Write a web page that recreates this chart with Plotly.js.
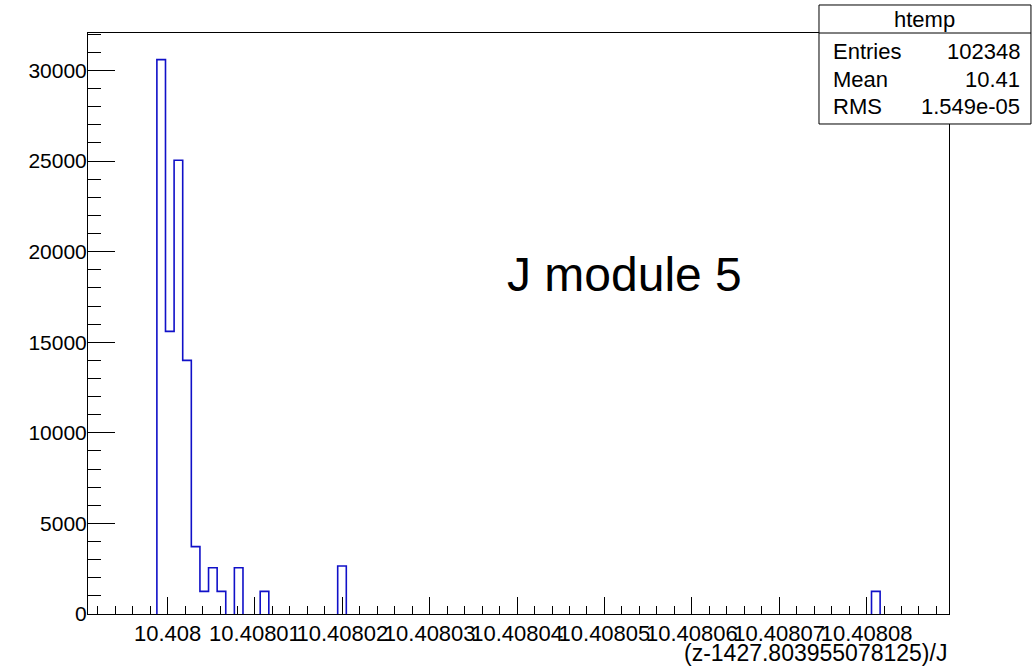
<!DOCTYPE html>
<html>
<head>
<meta charset="utf-8">
<script src="https://cdn.plot.ly/plotly-3.0.1.min.js"></script>
<style>
  html, body { margin: 0; padding: 0; background: #ffffff; }
  #plot { width: 1033px; height: 668px; }
</style>
</head>
<body>
<div id="plot"></div>
<script>
// Histogram definition (htemp): 100 equal bins over the axis range
const nBins = 100;
const xLow = 10.40799089;
const xHigh = 10.40808944;

// Bins that hold entries, and their contents
const filledBins = [8, 9, 10, 11, 12, 13, 14, 15, 17, 20, 29, 91];
const binCounts = [30600, 15600, 25050, 14000, 3720, 1250, 2550, 1250, 2550, 1250, 2650, 1250];

// Axis tick labels
const xTickVals = [10.408, 10.40801, 10.40802, 10.40803, 10.40804, 10.40805, 10.40806, 10.40807, 10.40808];
const xTickText = ['10.408', '10.40801', '10.40802', '10.40803', '10.40804', '10.40805', '10.40806', '10.40807', '10.40808'];

// Statistics box contents
const statTitle = 'htemp';
const statNames = ['Entries', 'Mean', 'RMS'];
const statValues = ['102348', '10.41', '1.549e-05'];

const xTitle = '(z-1427.803955078125)/J';
const label = 'J module 5';

// Full bin content array
const counts = new Array(nBins).fill(0);
filledBins.forEach((b, i) => { counts[b] = binCounts[i]; });
const binWidth = (xHigh - xLow) / nBins;
const edge = k => xLow + k * binWidth;

// Outline of the histogram: one closed step path per run of non-empty bins
const xs = [], ys = [];
let k = 0;
while (k < nBins) {
  if (counts[k] === 0) { k++; continue; }
  xs.push(edge(k)); ys.push(0);
  while (k < nBins && counts[k] !== 0) {
    xs.push(edge(k)); ys.push(counts[k]);
    xs.push(edge(k + 1)); ys.push(counts[k]);
    k++;
  }
  xs.push(edge(k)); ys.push(0);
  xs.push(null); ys.push(null);
}

const FONT = 'Liberation Sans, Arial, Helvetica, sans-serif';

const trace = {
  type: 'scatter',
  mode: 'lines',
  x: xs,
  y: ys,
  line: { color: '#1010c8', width: 1.6, shape: 'linear' },
  connectgaps: false,
  hoverinfo: 'skip',
  showlegend: false
};

// Stats box geometry in paper units
const boxX0 = 0.849, boxX1 = 1.0952, boxY0 = 0.8434, boxY1 = 1.0482, boxDiv = 1.0;
const txtLeft = 0.8626, txtRight = 1.0844;
const rowY = [0.9678, 0.9203, 0.8732];

const annotations = [
  { xref: 'paper', yref: 'paper', x: 0.623, y: 0.585, text: label, showarrow: false,
    xanchor: 'center', yanchor: 'middle', font: { family: FONT, size: 48, color: '#000' } },
  { xref: 'paper', yref: 'paper', x: 1.0, y: -0.067, text: xTitle, showarrow: false,
    xanchor: 'right', yanchor: 'middle', font: { family: FONT, size: 23, color: '#000' } },
  { xref: 'paper', yref: 'paper', x: (boxX0 + boxX1) / 2, y: 1.0224, text: statTitle, showarrow: false,
    xanchor: 'center', yanchor: 'middle', font: { family: FONT, size: 22, color: '#000' } }
];
statNames.forEach((name, i) => {
  annotations.push({ xref: 'paper', yref: 'paper', x: txtLeft, y: rowY[i], text: name, showarrow: false,
    xanchor: 'left', yanchor: 'middle', font: { family: FONT, size: 22, color: '#000' } });
  annotations.push({ xref: 'paper', yref: 'paper', x: txtRight, y: rowY[i], text: statValues[i], showarrow: false,
    xanchor: 'right', yanchor: 'middle', font: { family: FONT, size: 22, color: '#000' } });
});

const layout = {
  width: 1033,
  height: 668,
  margin: { l: 88, r: 84, t: 33, b: 54, pad: 0 },
  paper_bgcolor: '#ffffff',
  plot_bgcolor: '#ffffff',
  showlegend: false,
  font: { family: FONT, color: '#000' },
  xaxis: {
    range: [xLow, xHigh],
    showline: true, linecolor: '#000', linewidth: 1, mirror: true,
    showgrid: false, zeroline: false,
    ticks: 'inside', ticklen: 17, tickwidth: 1, tickcolor: '#000',
    tickmode: 'array', tickvals: xTickVals, ticktext: xTickText,
    tickangle: 0,
    tickfont: { family: FONT, size: 22, color: '#000' },
    minor: { tickmode: 'linear', tick0: 10.408, dtick: 2e-6, ticks: 'inside', ticklen: 8,
             tickwidth: 1, tickcolor: '#000', showgrid: false },
    layer: 'above traces',
    fixedrange: true
  },
  yaxis: {
    range: [0, 32070],
    showline: true, linecolor: '#000', linewidth: 1, mirror: true,
    showgrid: false, zeroline: false,
    ticks: 'inside', ticklen: 27, tickwidth: 1, tickcolor: '#000',
    tickmode: 'linear', tick0: 0, dtick: 5000, tickformat: 'd',
    tickfont: { family: FONT, size: 21, color: '#000' },
    ticklabelstandoff: -4,
    minor: { tickmode: 'linear', tick0: 0, dtick: 1000, ticks: 'inside', ticklen: 13,
             tickwidth: 1, tickcolor: '#000', showgrid: false },
    layer: 'above traces',
    fixedrange: true
  },
  shapes: [
    { type: 'rect', xref: 'paper', yref: 'paper', x0: boxX0, x1: boxX1, y0: boxY0, y1: boxY1,
      fillcolor: '#ffffff', line: { color: '#000', width: 1 }, layer: 'above' },
    { type: 'line', xref: 'paper', yref: 'paper', x0: boxX0, x1: boxX1, y0: boxDiv, y1: boxDiv,
      line: { color: '#000', width: 1 }, layer: 'above' }
  ],
  annotations: annotations
};

Plotly.newPlot('plot', [trace], layout, { staticPlot: true, displayModeBar: false });
</script>
</body>
</html>
